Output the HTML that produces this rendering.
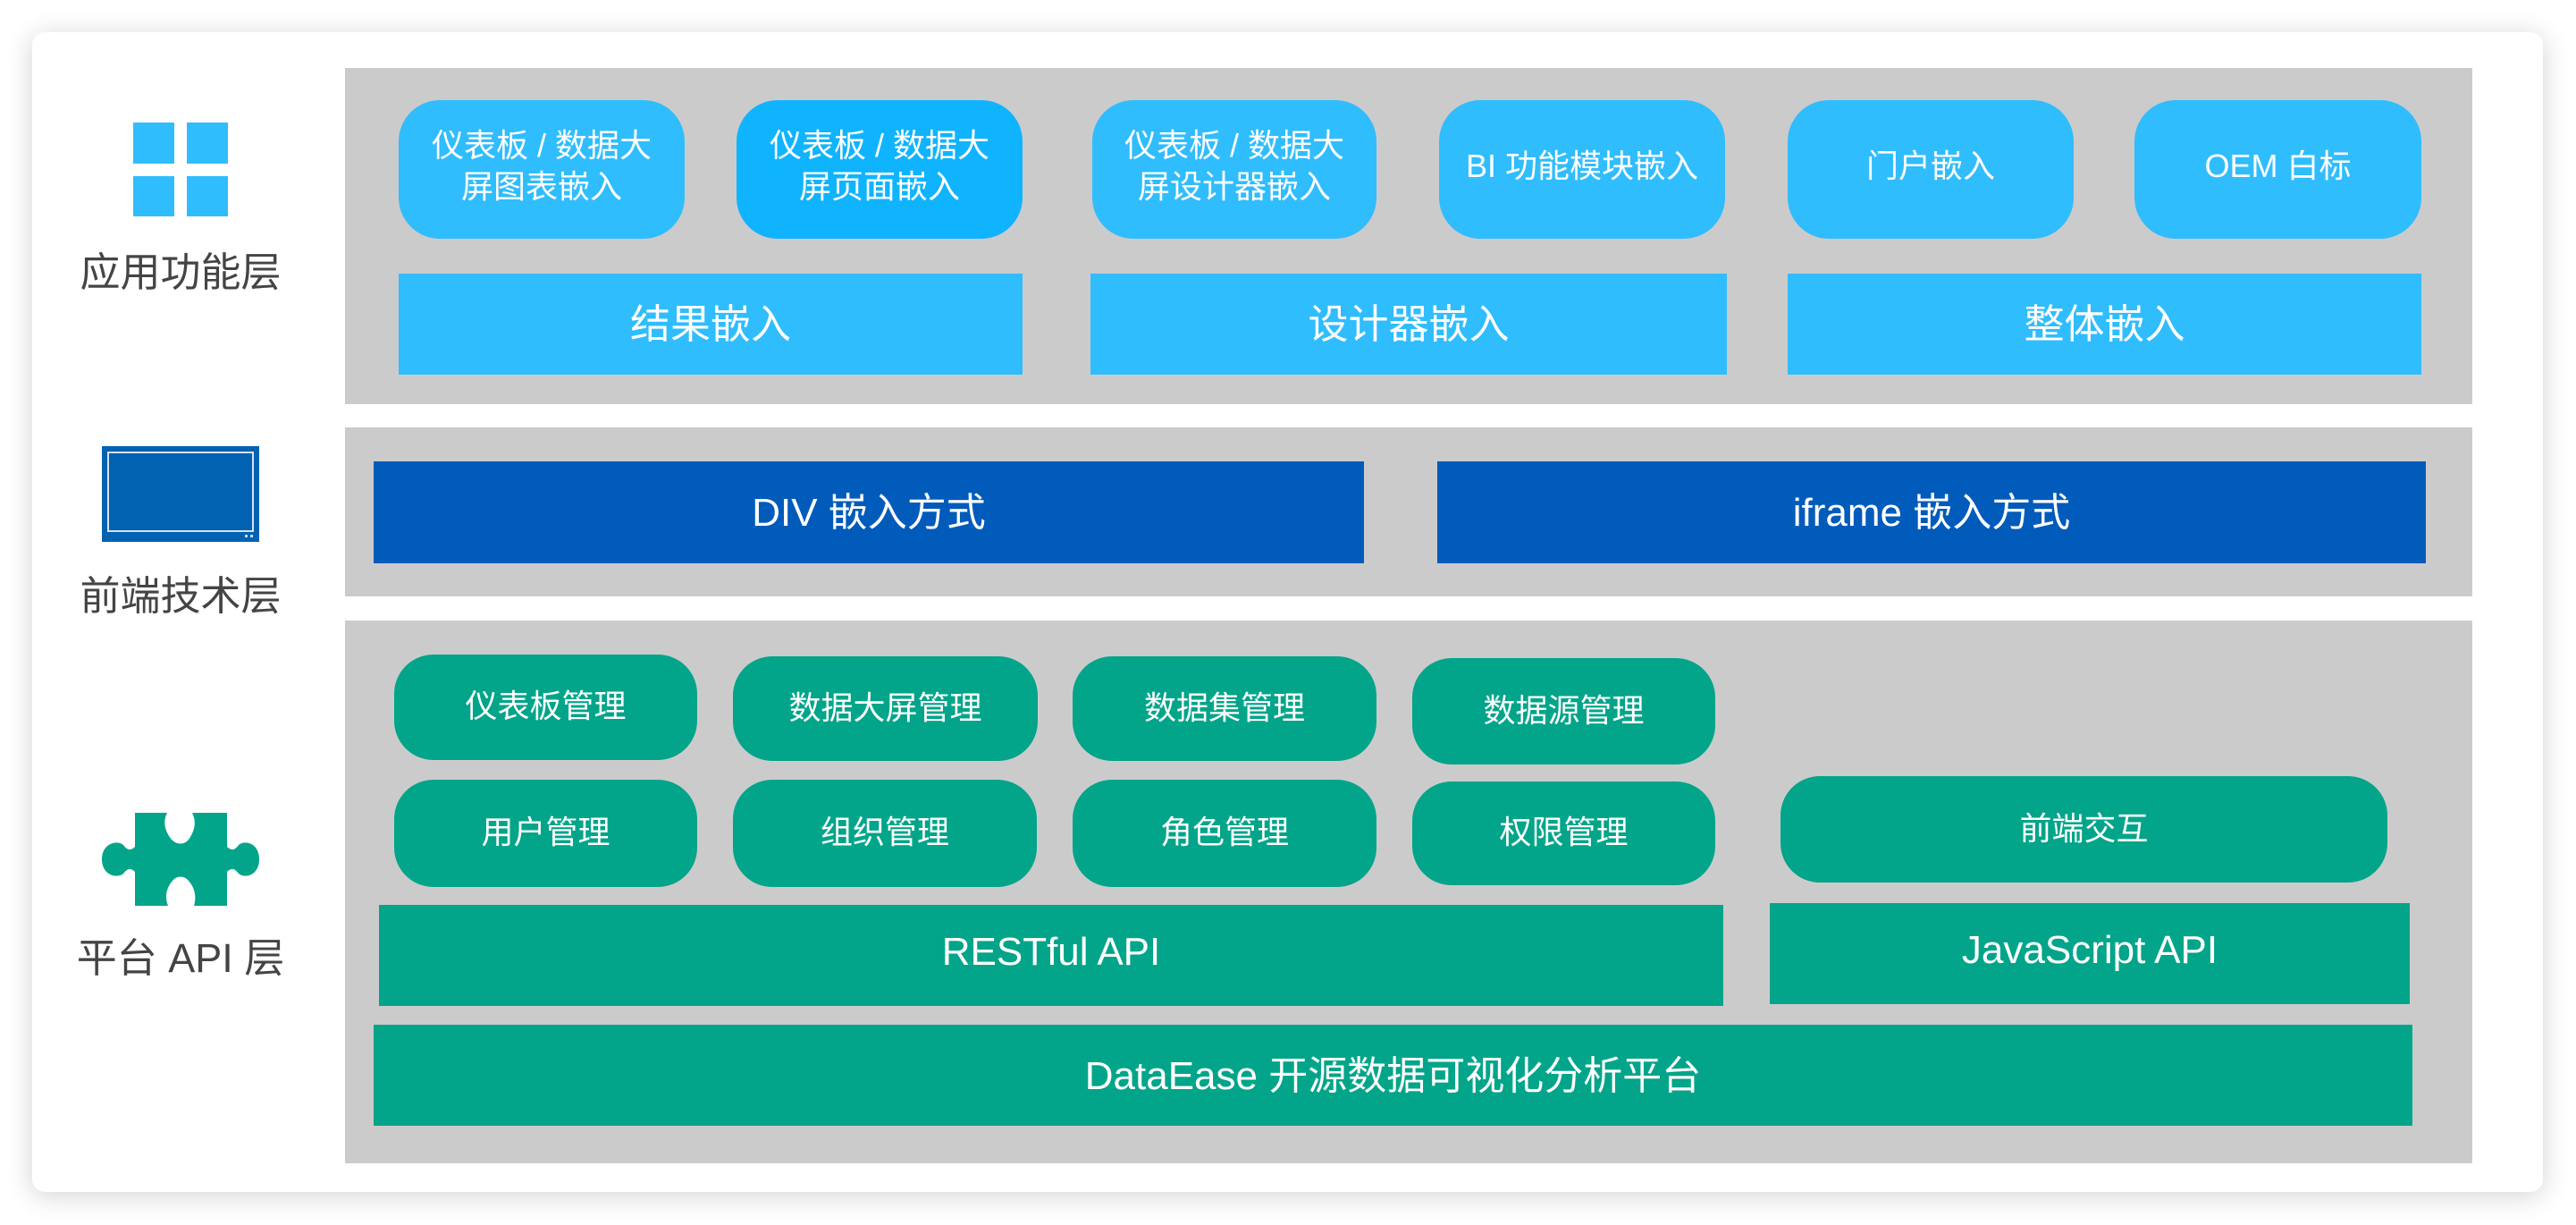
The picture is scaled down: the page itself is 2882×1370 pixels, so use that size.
<!DOCTYPE html>
<html><head><meta charset="utf-8"><style>
body{margin:0;width:2882px;height:1370px;background:#fff;position:relative;overflow:hidden;font-family:"Liberation Sans","Noto Sans CJK SC",sans-serif;}
.a{position:absolute;box-sizing:border-box;display:flex;align-items:center;justify-content:center;text-align:center;color:#fff;padding-bottom:8px;}
.card{position:absolute;left:36px;top:36px;width:2809px;height:1297px;background:#fff;border-radius:14px;box-shadow:0 4px 30px rgba(0,0,0,0.18);}
.band{position:absolute;background:#cccbcc;}
.bp{background:#30bdfd;border-radius:46px;font-size:36px;line-height:46px;}
.bb{background:#30bdfd;font-size:45px;}
.db{background:#005bbb;font-size:44px;}
.gp{background:#02a589;border-radius:44px;font-size:36px;}
.gb{background:#02a589;font-size:44px;}
.lbl{position:absolute;color:#444;font-size:45px;text-align:center;width:300px;left:52px;}
</style></head><body>
<div class="card"></div>
<div class="band" style="left:386px;top:76px;width:2380px;height:376px"></div>
<div class="band" style="left:386px;top:478px;width:2380px;height:189px"></div>
<div class="band" style="left:386px;top:694px;width:2380px;height:607px"></div>

<!-- icons -->
<div style="position:absolute;left:149px;top:137px;width:46px;height:46px;background:#30bdfd"></div>
<div style="position:absolute;left:209px;top:137px;width:46px;height:46px;background:#30bdfd"></div>
<div style="position:absolute;left:149px;top:197px;width:46px;height:45px;background:#30bdfd"></div>
<div style="position:absolute;left:209px;top:197px;width:46px;height:45px;background:#30bdfd"></div>
<div class="lbl" style="top:268px">应用功能层</div>
<div style="position:absolute;left:114px;top:499px;width:176px;height:107px;background:#0062b1;"><div style="position:absolute;left:6px;top:6px;width:164px;height:90px;border:2px solid #d5e4f3;box-sizing:border-box"></div><div style="position:absolute;left:160px;top:99px;width:3px;height:3px;background:#cde"></div><div style="position:absolute;left:166px;top:99px;width:3px;height:3px;background:#cde"></div></div>
<div class="lbl" style="top:630px">前端技术层</div>
<svg style="position:absolute;left:114px;top:909px" width="176" height="104" viewBox="0 0 176 104">
<path fill="#02a589" d="M37 0 H73 C68 10 70 20 78 30 C84 36 92 36 97 30 C104 20 106 10 101 0 H140 V38 C146 44 150 40 153 36 C160 30 176 34 176 52 C176 70 160 74 153 68 C150 64 146 60 140 66 V104 H103 C106 94 104 84 97 76 C92 70 84 70 79 76 C72 84 70 94 74 104 H37 V66 C31 60 27 64 24 68 C17 74 0 70 0 52 C0 34 17 30 24 36 C27 40 31 44 37 38 Z"/>
</svg>
<div class="lbl" style="top:1035px">平台 API 层</div>

<!-- band1 -->
<div class="a bp" style="left:446px;top:112px;width:320px;height:155px">仪表板 / 数据大<br>屏图表嵌入</div>
<div class="a bp" style="left:824px;top:112px;width:320px;height:155px;background:#10b4fe">仪表板 / 数据大<br>屏页面嵌入</div>
<div class="a bp" style="left:1222px;top:112px;width:318px;height:155px">仪表板 / 数据大<br>屏设计器嵌入</div>
<div class="a bp" style="left:1610px;top:112px;width:320px;height:155px">BI 功能模块嵌入</div>
<div class="a bp" style="left:2000px;top:112px;width:320px;height:155px">门户嵌入</div>
<div class="a bp" style="left:2388px;top:112px;width:321px;height:155px">OEM 白标</div>
<div class="a bb" style="left:446px;top:306px;width:698px;height:113px">结果嵌入</div>
<div class="a bb" style="left:1220px;top:306px;width:712px;height:113px">设计器嵌入</div>
<div class="a bb" style="left:2000px;top:306px;width:709px;height:113px">整体嵌入</div>

<!-- band2 -->
<div class="a db" style="left:418px;top:516px;width:1108px;height:114px">DIV 嵌入方式</div>
<div class="a db" style="left:1608px;top:516px;width:1106px;height:114px">iframe 嵌入方式</div>

<!-- band3 -->
<div class="a gp" style="left:441px;top:732px;width:339px;height:118px">仪表板管理</div>
<div class="a gp" style="left:820px;top:734px;width:341px;height:117px">数据大屏管理</div>
<div class="a gp" style="left:1200px;top:734px;width:340px;height:117px">数据集管理</div>
<div class="a gp" style="left:1580px;top:736px;width:339px;height:119px">数据源管理</div>
<div class="a gp" style="left:441px;top:872px;width:339px;height:120px">用户管理</div>
<div class="a gp" style="left:820px;top:872px;width:340px;height:120px">组织管理</div>
<div class="a gp" style="left:1200px;top:872px;width:340px;height:120px">角色管理</div>
<div class="a gp" style="left:1580px;top:874px;width:339px;height:116px">权限管理</div>
<div class="a gp" style="left:1992px;top:868px;width:679px;height:119px">前端交互</div>
<div class="a gb" style="left:424px;top:1012px;width:1504px;height:113px">RESTful API</div>
<div class="a gb" style="left:1980px;top:1010px;width:716px;height:113px">JavaScript API</div>
<div class="a gb" style="left:418px;top:1146px;width:2281px;height:113px">DataEase 开源数据可视化分析平台</div>
</body></html>
